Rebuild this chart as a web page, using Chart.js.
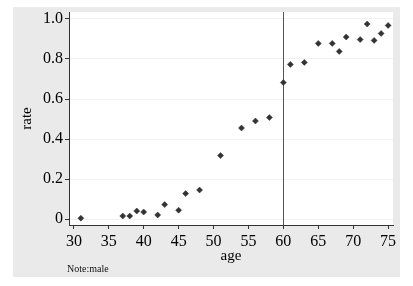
<!DOCTYPE html>
<html>
<head>
<meta charset="utf-8">
<script src="https://cdn.jsdelivr.net/npm/chart.js@4"></script>
<style>
  html, body { margin: 0; padding: 0; background: #fff; }
  #wrap { width: 413px; height: 286px; }
</style>
</head>
<body>
<div id="wrap"><canvas id="chart" width="413" height="286"></canvas></div>
<script>
// 年齢別の率（男性）
var ages  = [31, 37, 38, 39, 40, 42, 43, 45, 46, 48, 51, 54, 56, 58, 60, 61, 63, 65, 67, 68, 69, 71, 72, 73, 74, 75];
var rates = [0.004, 0.015, 0.015, 0.04, 0.035, 0.02, 0.072, 0.044, 0.127, 0.145, 0.317, 0.455, 0.49, 0.507,
             0.682, 0.773, 0.783, 0.878, 0.878, 0.838, 0.91, 0.897, 0.975, 0.893, 0.928, 0.968];
var xTicks = [30, 35, 40, 45, 50, 55, 60, 65, 70, 75];
var yTicks = [0, 0.2, 0.4, 0.6, 0.8, 1.0];
var cutoffAge = 60;
var noteText = "Note:male";

(function () {
  var SERIF = "'Liberation Serif', 'DejaVu Serif', serif";

  var backdrop = {
    id: "backdrop",
    beforeDraw: function (chart) {
      var ctx = chart.ctx, a = chart.chartArea;
      ctx.save();
      ctx.fillStyle = "#ffffff";
      ctx.fillRect(0, 0, chart.width, chart.height);
      ctx.fillStyle = "#eaeaea";
      ctx.fillRect(13, 7, 387, 270);
      ctx.fillStyle = "#ffffff";
      ctx.fillRect(a.left, a.top, a.right - a.left, a.bottom - a.top);
      ctx.restore();
    },
    beforeDatasetsDraw: function (chart) {
      // 60歳の基準線
      var ctx = chart.ctx, a = chart.chartArea;
      var x = Math.round(chart.scales.x.getPixelForValue(cutoffAge)) + 0.5;
      ctx.save();
      ctx.strokeStyle = "#555555";
      ctx.lineWidth = 1;
      ctx.beginPath();
      ctx.moveTo(x, a.top);
      ctx.lineTo(x, a.bottom);
      ctx.stroke();
      ctx.restore();
    },
    afterDraw: function (chart) {
      var ctx = chart.ctx;
      ctx.save();
      ctx.fillStyle = "#111111";
      ctx.font = "10px " + SERIF;
      ctx.textBaseline = "middle";
      ctx.fillText(noteText, 67, 269);
      ctx.restore();
    }
  };

  var points = ages.map(function (a, i) {
    return { x: a, y: rates[i] };
  });

  new Chart(document.getElementById("chart"), {
    type: "scatter",
    data: {
      datasets: [{
        data: points,
        pointStyle: "rectRot",
        pointRadius: 3,
        pointBorderWidth: 0.5,
        backgroundColor: "#333333",
        borderColor: "#333333"
      }]
    },
    options: {
      responsive: false,
      animation: false,
      layout: { padding: { left: 13, top: 12, right: 20, bottom: 0 } },
      plugins: {
        legend: { display: false },
        tooltip: { enabled: false }
      },
      scales: {
        x: {
          type: "linear",
          min: 29.3,
          max: 75.7,
          afterBuildTicks: function (s) {
            s.ticks = xTicks.map(function (v) { return { value: v }; });
          },
          afterFit: function (s) { s.height = 61; },
          grid: {
            drawOnChartArea: false,
            tickColor: "#333333",
            tickLength: 4
          },
          border: { color: "#333333", width: 1 },
          ticks: {
            color: "#000000",
            padding: 3,
            maxRotation: 0,
            font: { family: SERIF, size: 16 }
          },
          title: {
            display: true,
            text: "age",
            color: "#000000",
            font: { family: SERIF, size: 15 },
            padding: { top: 0, bottom: 21 }
          }
        },
        y: {
          min: -0.03,
          max: 1.035,
          afterBuildTicks: function (s) {
            s.ticks = yTicks.map(function (v) { return { value: v }; });
          },
          afterFit: function (s) { s.width = 56; },
          grid: {
            color: "#f2f2f2",
            tickColor: "#333333",
            tickLength: 4
          },
          border: { color: "#333333", width: 1 },
          ticks: {
            color: "#000000",
            padding: 2,
            font: { family: SERIF, size: 16 },
            callback: function (v) { return v === 0 ? "0" : v.toFixed(1); }
          },
          title: {
            display: true,
            text: "rate",
            color: "#000000",
            font: { family: SERIF, size: 15 },
            padding: { top: 5, bottom: 0 }
          }
        }
      }
    },
    plugins: [backdrop]
  });
})();
</script>
</body>
</html>
